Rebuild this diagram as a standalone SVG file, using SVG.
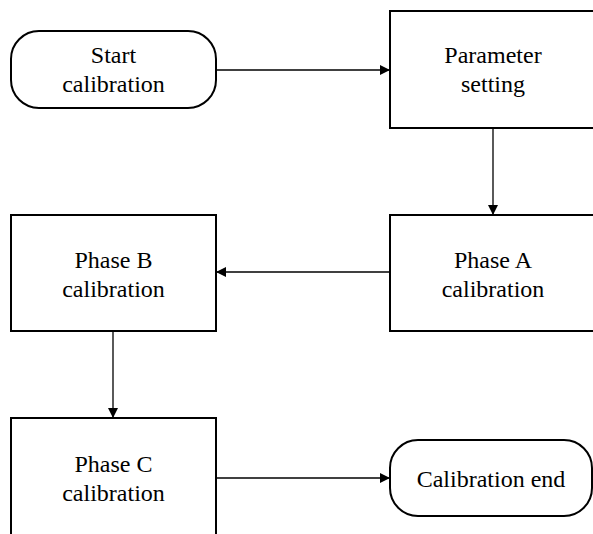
<svg xmlns="http://www.w3.org/2000/svg" width="593" height="534" viewBox="0 0 593 534">
<defs>
<marker id="ah" viewBox="0 0 10 10" refX="10" refY="5" markerWidth="10" markerHeight="10" markerUnits="userSpaceOnUse" orient="auto">
<path d="M0,0 L10,5 L0,10 Z" fill="#000"/>
</marker>
</defs>
<rect width="593" height="534" fill="#fff"/>
<g id="connectors" stroke="#000" stroke-width="1.3" fill="none" marker-end="url(#ah)">
<line x1="216" y1="70" x2="390" y2="70"/>
<line x1="493" y1="128" x2="493" y2="215"/>
<line x1="390" y1="272" x2="216" y2="272"/>
<line x1="113" y1="331" x2="113" y2="418"/>
<line x1="216" y1="478" x2="390" y2="478"/>
</g>
<g id="start">
<rect x="11" y="31" width="205" height="77" rx="28" ry="28" fill="#fff" stroke="#000" stroke-width="2"/>
<text x="113.5" y="63" font-family="Liberation Serif" font-size="24" text-anchor="middle" style="font-family:'Liberation Serif',serif">Start</text>
<text x="113.5" y="92" font-family="Liberation Serif" font-size="24" text-anchor="middle" style="font-family:'Liberation Serif',serif">calibration</text>
</g>
<g id="param">
<rect x="390" y="11" width="206" height="117" fill="#fff" stroke="#000" stroke-width="2"/>
<text x="493" y="63" font-family="Liberation Serif" font-size="24" text-anchor="middle" style="font-family:'Liberation Serif',serif">Parameter</text>
<text x="493" y="92" font-family="Liberation Serif" font-size="24" text-anchor="middle" style="font-family:'Liberation Serif',serif">setting</text>
</g>
<g id="phaseA">
<rect x="390" y="215" width="206" height="116" fill="#fff" stroke="#000" stroke-width="2"/>
<text x="493" y="268" font-family="Liberation Serif" font-size="24" text-anchor="middle" style="font-family:'Liberation Serif',serif">Phase A</text>
<text x="493" y="297" font-family="Liberation Serif" font-size="24" text-anchor="middle" style="font-family:'Liberation Serif',serif">calibration</text>
</g>
<g id="phaseB">
<rect x="11" y="215" width="205" height="116" fill="#fff" stroke="#000" stroke-width="2"/>
<text x="113.5" y="268" font-family="Liberation Serif" font-size="24" text-anchor="middle" style="font-family:'Liberation Serif',serif">Phase B</text>
<text x="113.5" y="297" font-family="Liberation Serif" font-size="24" text-anchor="middle" style="font-family:'Liberation Serif',serif">calibration</text>
</g>
<g id="phaseC">
<rect x="11" y="418" width="205" height="118" fill="#fff" stroke="#000" stroke-width="2"/>
<text x="113.5" y="472" font-family="Liberation Serif" font-size="24" text-anchor="middle" style="font-family:'Liberation Serif',serif">Phase C</text>
<text x="113.5" y="501" font-family="Liberation Serif" font-size="24" text-anchor="middle" style="font-family:'Liberation Serif',serif">calibration</text>
</g>
<g id="end">
<rect x="390" y="440" width="202" height="76" rx="28" ry="28" fill="#fff" stroke="#000" stroke-width="2"/>
<text x="491" y="487" font-family="Liberation Serif" font-size="24" text-anchor="middle" style="font-family:'Liberation Serif',serif">Calibration end</text>
</g>
</svg>
